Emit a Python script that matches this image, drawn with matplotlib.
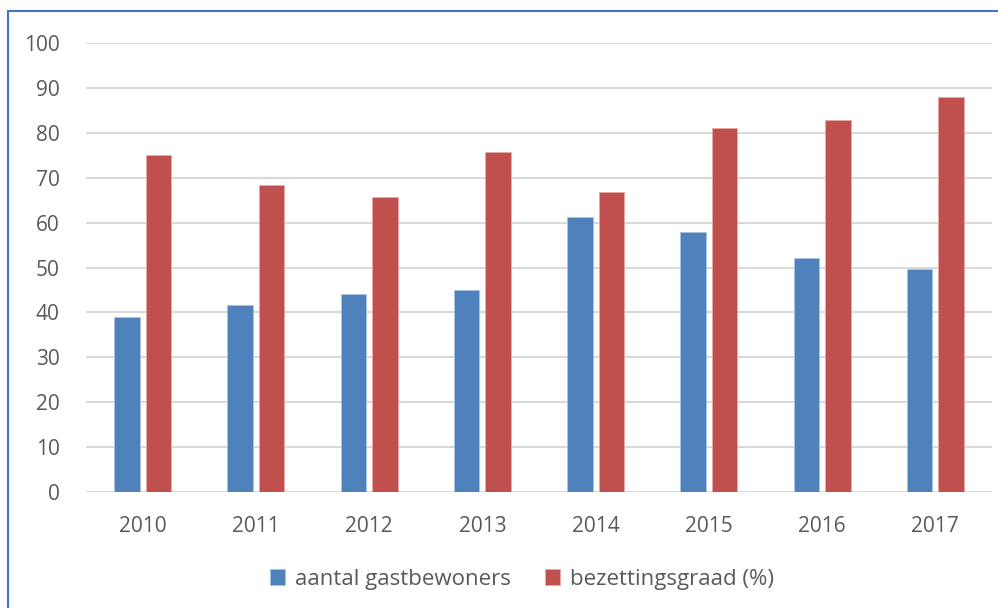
import matplotlib
matplotlib.use("Agg")
import matplotlib.pyplot as plt
import numpy as np
from matplotlib.patches import Rectangle

years = ["2010", "2011", "2012", "2013", "2014", "2015", "2016", "2017"]
gastbewoners = [39, 41.6, 44, 45, 61.2, 57.9, 52.2, 49.7]
bezetting = [75, 68.3, 65.8, 75.8, 66.8, 81, 82.9, 87.9]
series_names = ["aantal gastbewoners", "bezettingsgraad (%)"]
yticks = [0, 10, 20, 30, 40, 50, 60, 70, 80, 90, 100]

plt.rcParams['font.family'] = ['Open Sans', 'DejaVu Sans']

fig = plt.figure(figsize=(9.98, 6.08), dpi=100)
ax = fig.add_axes([86/998, 1-492/608, (992-86)/998, (492-43)/608])

x = np.arange(len(years))
w = 0.225
gap = 0.055
ax.bar(x - (w+gap)/2, gastbewoners, w, color="#4F81BD", edgecolor="#A9C4E8", linewidth=0.6, label=series_names[0], zorder=3)
ax.bar(x + (w+gap)/2, bezetting, w, color="#C0504D", edgecolor="#E8A9A8", linewidth=0.6, label=series_names[1], zorder=3)

ax.set_xlim(-0.5, len(years)-0.5)
ax.set_ylim(0, 100)
ax.set_yticks(yticks)
ax.set_xticks(x)
ax.set_xticklabels(years)
ax.yaxis.grid(True, color="#D9D9D9", linewidth=1.5, zorder=0)
ax.set_axisbelow(True)
for s in ax.spines.values():
    s.set_visible(False)
ax.tick_params(axis='both', length=0, colors="#595959", labelsize=15)
ax.tick_params(axis='y', pad=19)
ax.tick_params(axis='x', pad=17)

leg = fig.legend(loc='center', bbox_to_anchor=(522/998, 1-579/608), ncol=2, frameon=False,
                 fontsize=16, handlelength=0.7, handleheight=0.7, columnspacing=1.5, handletextpad=0.45)
for t in leg.get_texts():
    t.set_color("#595959")

fig.patches.append(Rectangle((8/998, -0.1), 1.2, 1 - 11/608 + 0.1, transform=fig.transFigure,
                             fill=False, edgecolor="#4472C4", linewidth=1.5, figure=fig))

fig.savefig("out.png", dpi=100)
